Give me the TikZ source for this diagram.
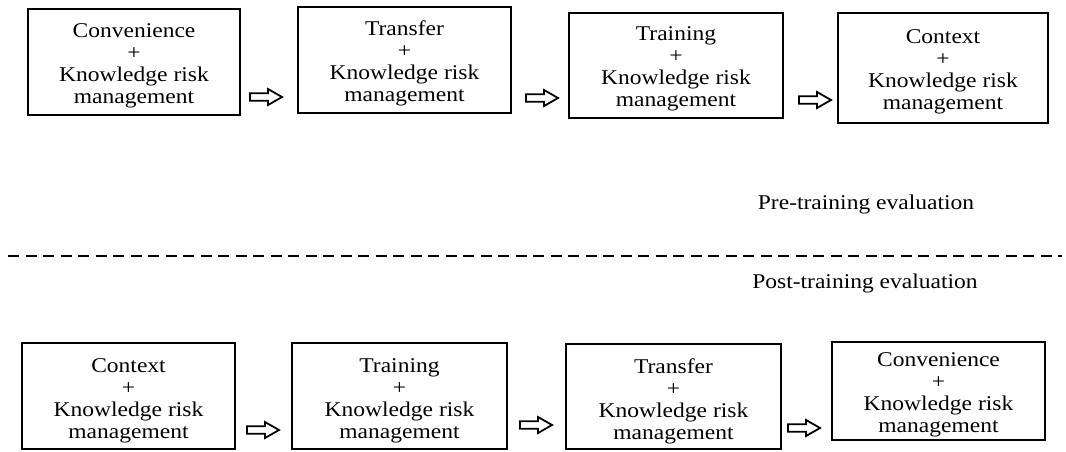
\documentclass[tikz,border=0pt]{standalone}
\usepackage{fontspec}
\setmainfont{Liberation Serif}[FakeStretch=1.12]
\begin{document}
\begin{tikzpicture}[x=1pt,y=-1pt,
  stagebox/.style={draw,line width=1.8pt,rectangle,align=center,inner sep=0pt,
    font=\fontsize{21}{22}\selectfont},
  phase/.style={font=\fontsize{21}{22}\selectfont,inner sep=0pt},
  arrowline/.style={draw,line width=1.8pt,fill=white,line join=miter},
  sepline/.style={line width=2.6pt,dash pattern=on 11pt off 6.5pt}]
\useasboundingbox (0,0) rectangle (1066,452);
\newcommand{\blockarr}[1]{\path[arrowline] (#1) ++(0,-3.8) -- ++(18,0) -- ++(0,-4.2) -- ++(14,8) -- ++(-14,8) -- ++(0,-4.2) -- ++(-18,0) -- cycle;}
\newcommand{\upstrut}{\rule{0pt}{21pt}}
\newcommand{\lowstrut}{\rule{0pt}{24pt}}
% top row
\node[stagebox,minimum width=212pt,minimum height=106pt] (t1) at (134,62) {\upstrut Convenience\\+\\Knowledge risk\\management};
\node[stagebox,minimum width=213pt,minimum height=106pt] (t2) at (404.5,60) {\upstrut Transfer\\+\\Knowledge risk\\management};
\node[stagebox,minimum width=214pt,minimum height=105pt] (t3) at (676,65.5) {\upstrut Training\\+\\Knowledge risk\\management};
\node[stagebox,minimum width=210pt,minimum height=110pt] (t4) at (943,68) {\upstrut Context\\+\\Knowledge risk\\management};
\coordinate (ta1) at (250,97);
\coordinate (ta2) at (526,98);
\coordinate (ta3) at (799,100);
\blockarr{ta1}
\blockarr{ta2}
\blockarr{ta3}
% labels and separator
\node[phase] (pre) at (866,204) {Pre-training evaluation};
\coordinate (dl) at (8,256);
\coordinate (dr) at (1062,256);
\draw[sepline] (dl) -- (dr);
\node[phase] (post) at (865,283) {Post-training evaluation};
% bottom row
\node[stagebox,minimum width=213pt,minimum height=106pt] (b1) at (128.5,396) {\lowstrut Context\\+\\Knowledge risk\\management};
\node[stagebox,minimum width=215pt,minimum height=106pt] (b2) at (399.5,396) {\lowstrut Training\\+\\Knowledge risk\\management};
\node[stagebox,minimum width=215pt,minimum height=105pt] (b3) at (673.5,396.5) {\lowstrut Transfer\\+\\Knowledge risk\\management};
\node[stagebox,minimum width=213pt,minimum height=98pt] (b4) at (938.5,391) {\upstrut Convenience\\+\\Knowledge risk\\management};
\coordinate (ba1) at (247,430);
\coordinate (ba2) at (520,425);
\coordinate (ba3) at (788,428);
\blockarr{ba1}
\blockarr{ba2}
\blockarr{ba3}
\end{tikzpicture}
\end{document}
